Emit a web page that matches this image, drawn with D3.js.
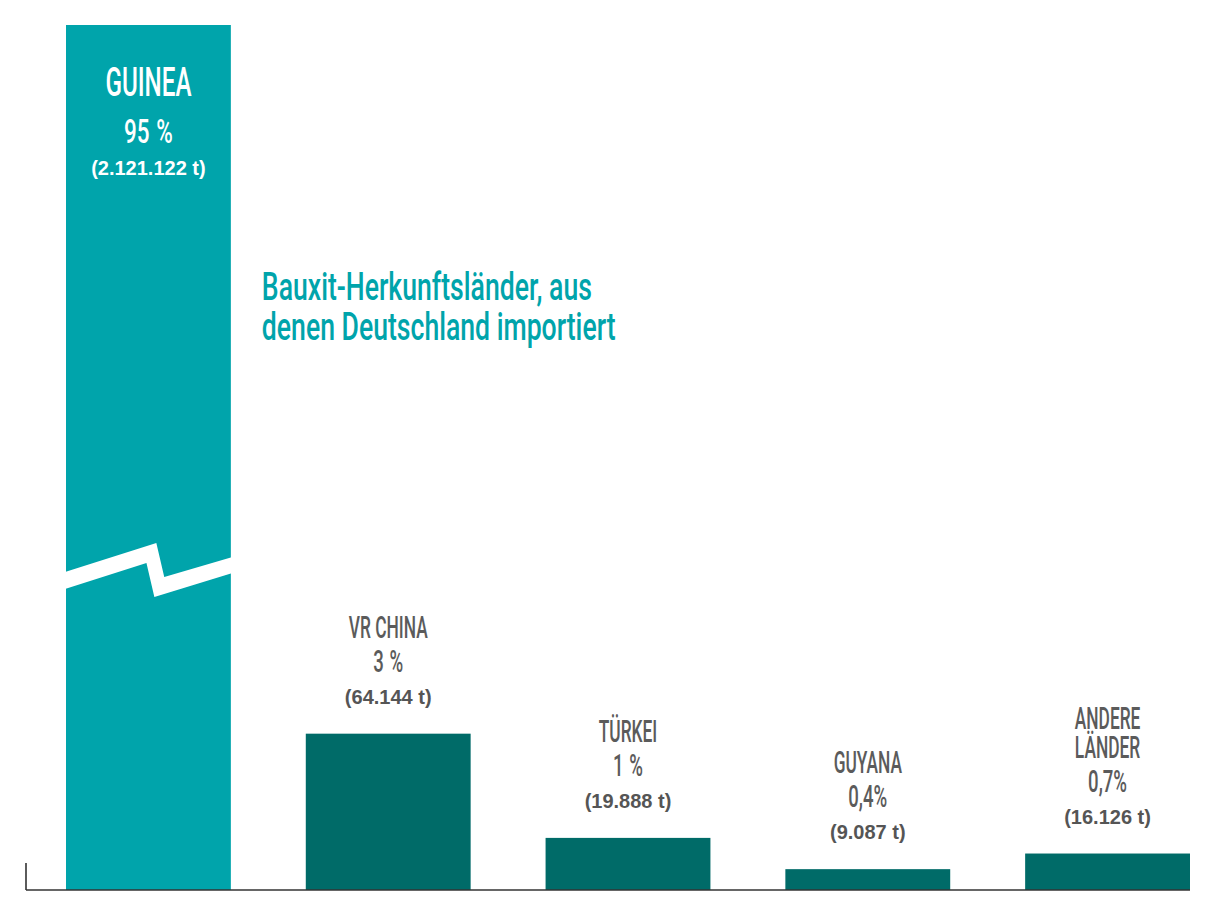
<!DOCTYPE html>
<html><head><meta charset="utf-8">
<script src="https://cdn.jsdelivr.net/npm/d3@7"></script>
<style>
html,body{margin:0;padding:0;background:#fff;}
svg{display:block;}
</style></head>
<body>
<svg id="chart" width="1208" height="906"></svg>
<script>
// ---- data ----
const categories = ["GUINEA", "VR CHINA", "TÜRKEI", "GUYANA", "ANDERE LÄNDER"];
const nameLines = [["GUINEA"], ["VR CHINA"], ["TÜRKEI"], ["GUYANA"], ["ANDERE", "LÄNDER"]];
const shares = [95, 3, 1, 0.4, 0.7];
const shareLabels = ["95 %", "3 %", "1 %", "0,4%", "0,7%"];
const tonnes = [2121122, 64144, 19888, 9087, 16126];
const titleLines = ["Bauxit-Herkunftsländer, aus", "denen Deutschland importiert"];

// ---- layout ----
const baseY = 890, topY = 25;
const axisX0 = 26, axisX1 = 1190;
const barX0 = 66;
const teal = "#00a4ab", darkTeal = "#006b68", grey = "#5b5b5b";
const condFont = "Roboto, 'Liberation Sans', sans-serif";
const numFont = "'Liberation Sans', Arial, sans-serif";

const de = d3.formatLocale({decimal: ",", thousands: ".", grouping: [3], currency: ["", " €"]});
const fmt = de.format(",");

const data = categories.map((c, i) => ({cat: c, lines: nameLines[i], share: shares[i], shareLabel: shareLabels[i], t: tonnes[i], i}));

const svg = d3.select("#chart");

const x = d3.scaleBand().domain(categories).range([barX0, axisX1]).paddingInner(0.3125).paddingOuter(0);
const y = d3.scaleLinear().domain([0, 16.6]).range([baseY, topY]).clamp(true);

function condense(sel, factor) {
  sel.each(function () {
    const w = this.getComputedTextLength();
    d3.select(this).attr("textLength", w * factor).attr("lengthAdjust", "spacingAndGlyphs");
  });
}

// bars
svg.append("g").selectAll("rect").data(data).join("rect")
  .attr("x", d => x(d.cat))
  .attr("y", d => y(d.share))
  .attr("width", x.bandwidth())
  .attr("height", d => baseY - y(d.share))
  .attr("fill", d => d.i === 0 ? teal : darkTeal);

// break on the first bar
{
  const bx = x(categories[0]), bw = x.bandwidth();
  const pts = [[-1, 572], [0.548, 543], [0.596, 577], [1.01, 557], [1.01, 573], [0.536, 597], [0.488, 563], [-0.01, 589]];
  svg.append("polygon")
    .attr("points", pts.map(p => [bx + (p[0] < 0 ? -1 : p[0] * bw), p[1]].join(",")).join(" "))
    .attr("fill", "#fff");
}

// axis
const axisG = svg.append("g").attr("stroke", "#333").attr("stroke-width", 1.6).attr("fill", "none");
axisG.append("line").attr("x1", axisX0).attr("x2", axisX1).attr("y1", baseY).attr("y2", baseY);
axisG.append("line").attr("x1", axisX0).attr("x2", axisX0).attr("y1", baseY - 27).attr("y2", baseY);

// labels: Guinea inside bar
const g0 = data[0];
const cx0 = x(g0.cat) + x.bandwidth() / 2;
const gl = svg.append("g").attr("fill", "#fff").attr("text-anchor", "middle");
gl.append("text").attr("x", cx0).attr("y", 96).attr("font-family", condFont).attr("font-weight", 500)
  .attr("font-size", 41).text(g0.lines[0]).call(condense, 0.59);
gl.append("text").attr("x", cx0).attr("y", 143).attr("font-family", condFont).attr("font-weight", 500)
  .attr("font-size", 34).attr("word-spacing", 2).text(g0.shareLabel).call(condense, 0.66);
gl.append("text").attr("x", cx0).attr("y", 175).attr("font-family", numFont).attr("font-weight", "bold")
  .attr("font-size", 20).text("(" + fmt(g0.t) + " t)");

// labels: other bars above
const others = data.slice(1);
const lg = svg.append("g").attr("text-anchor", "middle");
others.forEach(d => {
  const cx = x(d.cat) + x.bandwidth() / 2;
  const top = y(d.share);
  const tY = top - 30, pY = tY - 32, nY = pY - 34;
  lg.append("text").attr("x", cx).attr("y", tY).attr("fill", "#555").attr("font-family", numFont)
    .attr("font-weight", "bold").attr("font-size", 20).text("(" + fmt(d.t) + " t)");
  lg.append("text").attr("x", cx).attr("y", pY).attr("fill", grey).attr("font-family", condFont)
    .attr("font-weight", 500).attr("font-size", 31).attr("word-spacing", 1.5).text(d.shareLabel).call(condense, 0.6);
  const n = d.lines.length;
  const nt = lg.append("text").attr("fill", grey).attr("font-family", condFont)
    .attr("font-weight", 500).attr("font-size", 31);
  d.lines.forEach((ln, k) => {
    nt.append("tspan").attr("x", cx).attr("y", nY - (n - 1 - k) * 29).text(ln).call(condense, 0.56);
  });
});

// title
const tg = svg.append("g").attr("fill", teal);
titleLines.forEach((t, k) => {
  tg.append("text").attr("x", x(categories[0]) + x.bandwidth() + 31).attr("y", 300 + k * 40)
    .attr("font-family", condFont).attr("font-weight", 500).attr("font-size", 38).text(t).call(condense, 0.70);
});
</script>
</body></html>
